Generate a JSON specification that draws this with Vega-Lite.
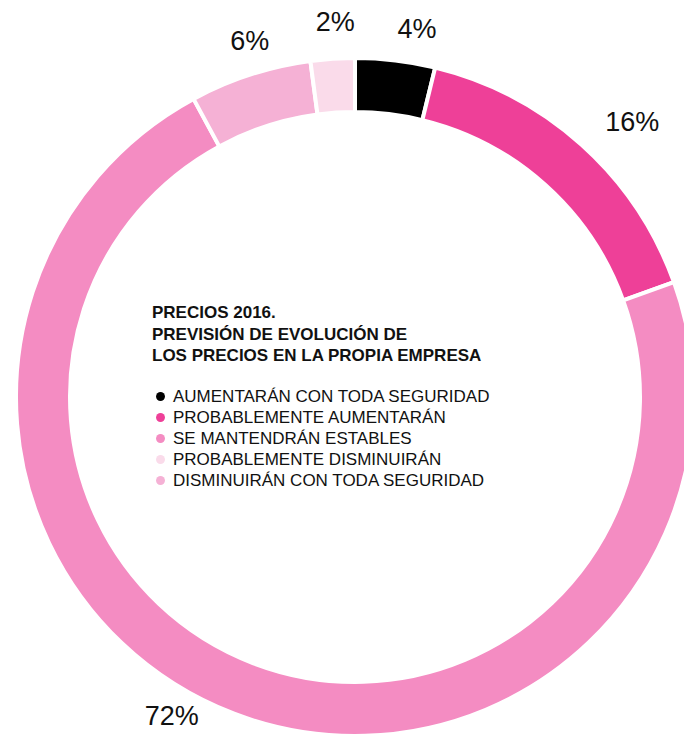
{
  "$schema": "https://vega.github.io/schema/vega-lite/v6.json",
  "width": 710,
  "height": 794,
  "autosize": {"type": "none"},
  "padding": 0,
  "background": "white",
  "view": {"stroke": null},
  "config": {"font": "Liberation Sans"},
  "data": {
    "values": [
      {"cat": "AUMENTARÁN CON TODA SEGURIDAD", "share": 3.8, "pct": 0.04, "ord": 1},
      {"cat": "PROBABLEMENTE AUMENTARÁN", "share": 15.7, "pct": 0.16, "ord": 2},
      {"cat": "SE MANTENDRÁN ESTABLES", "share": 72.6, "pct": 0.72, "ord": 3},
      {"cat": "DISMINUIRÁN CON TODA SEGURIDAD", "share": 5.8, "pct": 0.06, "ord": 4},
      {"cat": "PROBABLEMENTE DISMINUIRÁN", "share": 2.1, "pct": 0.02, "ord": 5}
    ]
  },
  "layer": [
    {
      "mark": {"type": "arc", "radius": 339, "innerRadius": 285, "stroke": "white", "strokeWidth": 4},
      "encoding": {
        "theta": {"field": "share", "type": "quantitative", "stack": true},
        "order": {"field": "ord", "type": "quantitative"},
        "color": {
          "field": "cat",
          "type": "nominal",
          "scale": {
            "domain": ["AUMENTARÁN CON TODA SEGURIDAD", "PROBABLEMENTE AUMENTARÁN", "SE MANTENDRÁN ESTABLES", "PROBABLEMENTE DISMINUIRÁN", "DISMINUIRÁN CON TODA SEGURIDAD"],
            "range": ["#000000", "#ee4098", "#f48cc2", "#fadbea", "#f5b1d5"]
          },
          "legend": {
            "title": ["PRECIOS 2016.", "PREVISIÓN DE EVOLUCIÓN DE", "LOS PRECIOS EN LA PROPIA EMPRESA"],
            "orient": "none",
            "legendX": 152,
            "legendY": 305,
            "padding": 0,
            "titleFont": "Liberation Sans",
            "titleFontSize": 17,
            "titleFontWeight": "bold",
            "titleColor": "#111111",
            "titleLineHeight": 21.5,
            "titlePadding": 23,
            "titleLimit": 500,
            "labelFont": "Liberation Sans",
            "labelFontSize": 17,
            "labelColor": "#111111",
            "labelLimit": 500,
            "labelOffset": 4,
            "symbolType": "circle",
            "symbolSize": 80,
            "symbolStrokeWidth": 0,
            "rowPadding": 3,
            "encode": {
              "symbols": {
                "update": {
                  "fill": {"signal": "datum.value === 'PROBABLEMENTE AUMENTARÁN' ? '#e6007e' : datum.value === 'SE MANTENDRÁN ESTABLES' ? '#ef88ba' : datum.value === 'PROBABLEMENTE DISMINUIRÁN' ? '#f9cfe3' : datum.value === 'DISMINUIRÁN CON TODA SEGURIDAD' ? '#f4b3d4' : '#000000'"}
                }
              }
            }
          }
        }
      }
    },
    {
      "mark": {"type": "text", "radius": 372, "thetaOffset": 0.048, "fontSize": 27, "font": "Liberation Sans", "color": "#111111", "align": "center", "baseline": "middle"},
      "encoding": {
        "theta": {"field": "share", "type": "quantitative", "stack": true},
        "order": {"field": "ord", "type": "quantitative"},
        "text": {"condition": {"test": "datum.ord === 1", "field": "pct", "type": "quantitative", "format": ".0%"}, "value": ""}
      }
    },
    {
      "mark": {"type": "text", "radius": 390, "thetaOffset": 0.059, "fontSize": 27, "font": "Liberation Sans", "color": "#111111", "align": "center", "baseline": "middle"},
      "encoding": {
        "theta": {"field": "share", "type": "quantitative", "stack": true},
        "order": {"field": "ord", "type": "quantitative"},
        "text": {"condition": {"test": "datum.ord === 2", "field": "pct", "type": "quantitative", "format": ".0%"}, "value": ""}
      }
    },
    {
      "mark": {"type": "text", "radius": 369, "thetaOffset": 0.155, "fontSize": 27, "font": "Liberation Sans", "color": "#111111", "align": "center", "baseline": "middle"},
      "encoding": {
        "theta": {"field": "share", "type": "quantitative", "stack": true},
        "order": {"field": "ord", "type": "quantitative"},
        "text": {"condition": {"test": "datum.ord === 3", "field": "pct", "type": "quantitative", "format": ".0%"}, "value": ""}
      }
    },
    {
      "mark": {"type": "text", "radius": 370, "thetaOffset": 0.026, "fontSize": 27, "font": "Liberation Sans", "color": "#111111", "align": "center", "baseline": "middle"},
      "encoding": {
        "theta": {"field": "share", "type": "quantitative", "stack": true},
        "order": {"field": "ord", "type": "quantitative"},
        "text": {"condition": {"test": "datum.ord === 4", "field": "pct", "type": "quantitative", "format": ".0%"}, "value": ""}
      }
    },
    {
      "mark": {"type": "text", "radius": 375, "thetaOffset": 0.013, "fontSize": 27, "font": "Liberation Sans", "color": "#111111", "align": "center", "baseline": "middle"},
      "encoding": {
        "theta": {"field": "share", "type": "quantitative", "stack": true},
        "order": {"field": "ord", "type": "quantitative"},
        "text": {"condition": {"test": "datum.ord === 5", "field": "pct", "type": "quantitative", "format": ".0%"}, "value": ""}
      }
    }
  ]
}
